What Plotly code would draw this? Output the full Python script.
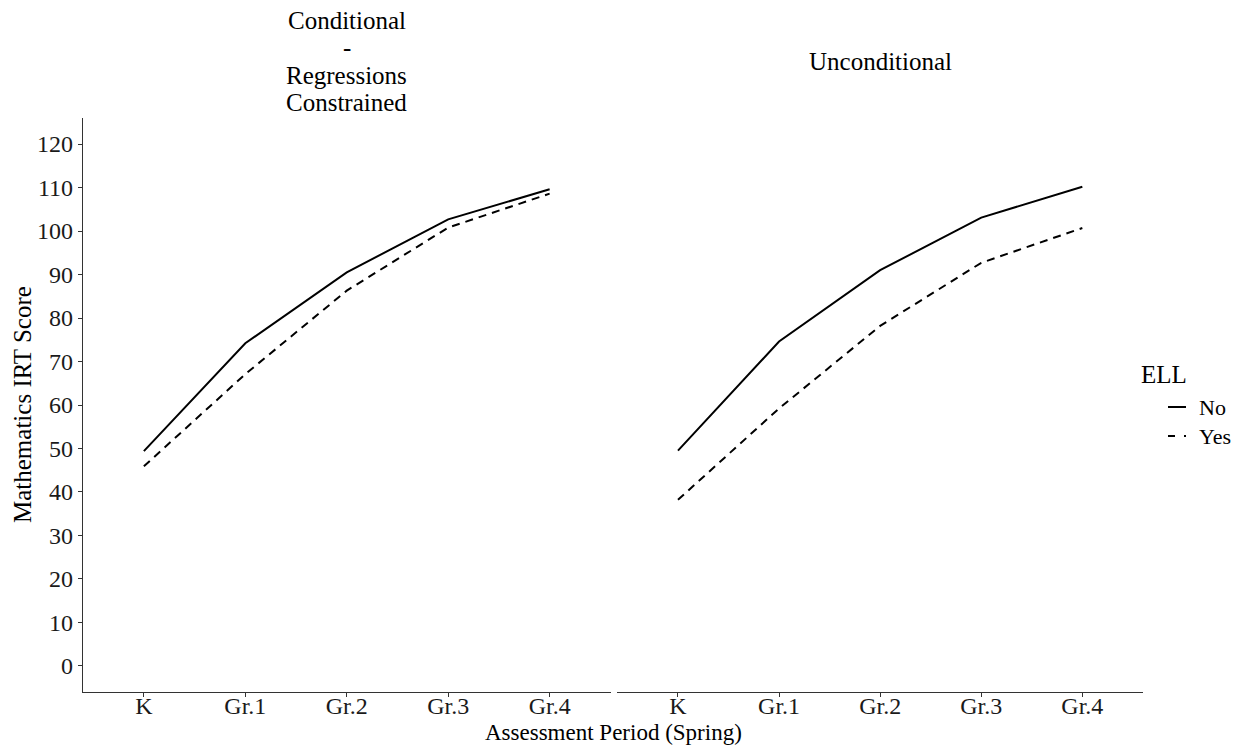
import plotly.graph_objects as go

# Assessment periods (spring of each year)
periods = ["K", "Gr.1", "Gr.2", "Gr.3", "Gr.4"]

# Mean mathematics IRT scores by ELL status
cond_no = [49.4, 74.2, 90.5, 102.7, 109.6]
cond_yes = [45.9, 67.1, 86.3, 100.8, 108.6]
uncond_no = [49.5, 74.6, 91.0, 103.1, 110.2]
uncond_yes = [38.2, 59.2, 78.2, 92.7, 100.7]

y_ticks = list(range(0, 121, 10))

FONT = "Liberation Serif"
INK = "#1a1a1a"
AXIS = "#333333"

W, H = 1249, 749
L, R, T, B = 83, 106, 118, 57
pw, ph = W - L - R, H - T - B


def px(x):
    return (x - L) / pw


def py(y):
    return (H - B - y) / ph


fig = go.Figure()

solid = dict(color="black", width=2)
dashed = dict(color="black", width=2, dash="8px,6px")

fig.add_trace(go.Scatter(x=periods, y=cond_no, mode="lines", line=solid,
                         name="No", xaxis="x", yaxis="y", showlegend=False))
fig.add_trace(go.Scatter(x=periods, y=cond_yes, mode="lines", line=dashed,
                         name="Yes", xaxis="x", yaxis="y", showlegend=False))
fig.add_trace(go.Scatter(x=periods, y=uncond_no, mode="lines", line=solid,
                         name="No", xaxis="x2", yaxis="y", showlegend=False))
fig.add_trace(go.Scatter(x=periods, y=uncond_yes, mode="lines", line=dashed,
                         name="Yes", xaxis="x2", yaxis="y", showlegend=False))

xcommon = dict(
    type="category", categoryorder="array", categoryarray=periods,
    range=[-0.6, 4.6], showline=True, linecolor=AXIS, linewidth=1.4,
    ticks="outside", ticklen=4, tickwidth=1.2, tickcolor=AXIS,
    ticklabelstandoff=-12,
    showgrid=False, zeroline=False,
    tickfont=dict(family=FONT, size=24, color=INK),
    fixedrange=True,
)

gap_l = px(610.5)
gap_r = px(617.3)

fig.update_layout(
    width=W, height=H,
    margin=dict(l=L, r=R, t=T, b=B, pad=0),
    paper_bgcolor="white", plot_bgcolor="white",
    font=dict(family=FONT, size=24, color=INK),
    xaxis=dict(domain=[0, gap_l], anchor="y", **xcommon),
    xaxis2=dict(domain=[gap_r, 1], anchor="y", **xcommon),
    yaxis=dict(
        range=[-6, 126], tickvals=y_ticks, showline=True, linecolor=AXIS,
        linewidth=1.4, ticks="outside", ticklen=4, tickwidth=1.2,
        tickcolor=AXIS, showgrid=False, zeroline=False,
        tickfont=dict(family=FONT, size=24, color=INK), fixedrange=True,
    ),
    showlegend=False,
)

ann = []

# Facet labels
left_c = (px(83) + gap_l) / 2
right_c = (gap_r + 1) / 2
for text, ypix in [("Conditional", 21), ("-", 48), ("Regressions", 75), ("Constrained", 102)]:
    ann.append(dict(text=text, x=left_c, y=py(ypix), xref="paper", yref="paper",
                    xanchor="center", yanchor="middle", showarrow=False,
                    font=dict(family=FONT, size=25, color="black")))
ann.append(dict(text="Unconditional", x=right_c, y=py(61), xref="paper", yref="paper",
                xanchor="center", yanchor="middle", showarrow=False,
                font=dict(family=FONT, size=25, color="black")))

# Axis titles
ann.append(dict(text="Assessment Period (Spring)", x=0.5, y=py(732), xref="paper",
                yref="paper", xanchor="center", yanchor="middle", showarrow=False,
                font=dict(family=FONT, size=23, color="black")))
ann.append(dict(text="Mathematics IRT Score", x=px(22), y=py(405), xref="paper",
                yref="paper", xanchor="center", yanchor="middle", showarrow=False,
                textangle=-90, font=dict(family=FONT, size=25, color="black")))

# Legend
ann.append(dict(text="ELL", x=px(1139), y=py(374), xref="paper", yref="paper",
                xanchor="left", yanchor="middle", showarrow=False,
                font=dict(family=FONT, size=25, color="black")))
for label, ypix in [("No", 407), ("Yes", 436)]:
    ann.append(dict(text=label, x=px(1197), y=py(ypix), xref="paper", yref="paper",
                    xanchor="left", yanchor="middle", showarrow=False,
                    font=dict(family=FONT, size=22, color="black")))

shapes = [
    dict(type="line", xref="paper", yref="paper", x0=px(1168), x1=px(1186),
         y0=py(407), y1=py(407), line=dict(color="black", width=2)),
    dict(type="line", xref="paper", yref="paper", x0=px(1168), x1=px(1186),
         y0=py(436), y1=py(436), line=dict(color="black", width=2, dash="7px,9px")),
]

fig.update_layout(annotations=ann, shapes=shapes)

fig.write_html("out.html")
